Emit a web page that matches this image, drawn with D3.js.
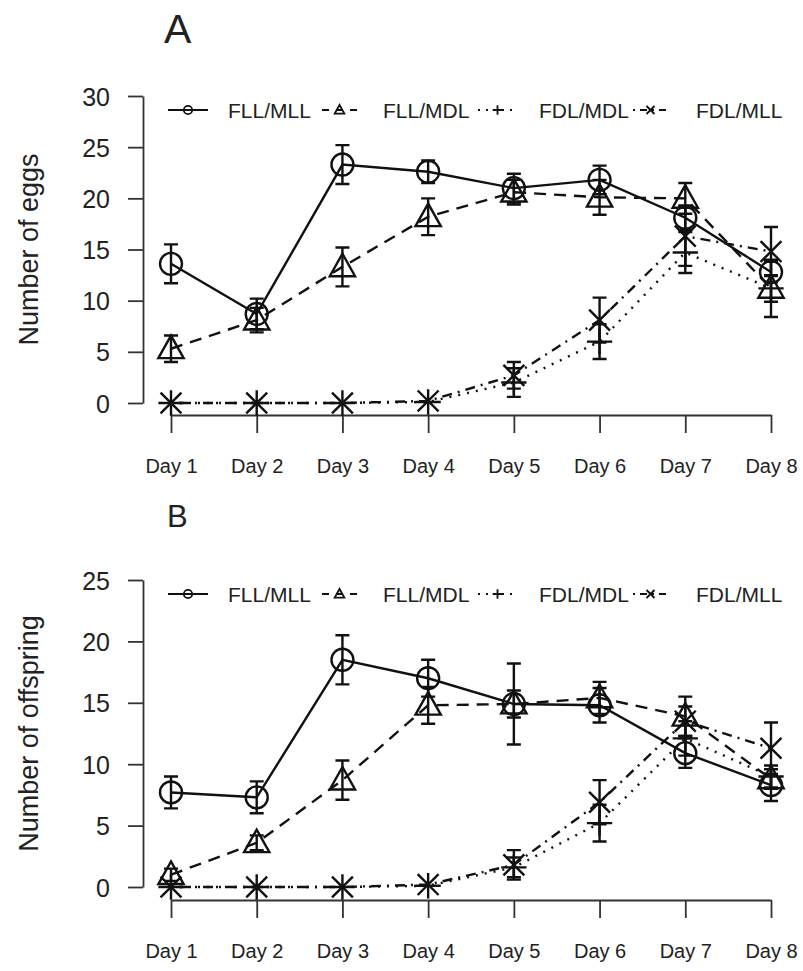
<!DOCTYPE html>
<html>
<head>
<meta charset="utf-8">
<script src="https://cdn.jsdelivr.net/npm/d3@7"></script>
<style>
  body { margin: 0; background: #fff; }
  text { font-family: "Liberation Sans", Arial, sans-serif; fill: #222; }
</style>
</head>
<body>
<svg width="803" height="971"></svg>
<script>
// data
var days = ["Day 1", "Day 2", "Day 3", "Day 4", "Day 5", "Day 6", "Day 7", "Day 8"];
var groups = ["FLL/MLL", "FLL/MDL", "FDL/MDL", "FDL/MLL"];
var symbols = ["circle", "triangle", "plus", "cross"];
var dashes = ["none", "12,8", "2,7", "2,6,10,6"];

// panel A: number of eggs
var eggsFLLMLL = [13.6, 8.7, 23.3, 22.6, 21.0, 21.8, 18.1, 12.8];
var eggsFLLMLLse = [1.9, 1.5, 1.9, 1.1, 1.4, 1.4, 1.2, 1.0];
var eggsFLLMDL = [5.3, 8.1, 13.3, 18.2, 20.6, 20.1, 20.0, 11.2];
var eggsFLLMDLse = [1.3, 1.2, 1.9, 1.8, 1.2, 1.7, 1.5, 2.8];
var eggsFDLMDL = [0, 0, 0, 0.1, 2.0, 6.0, 14.7, 11.2];
var eggsFDLMDLse = [0, 0, 0, 0.1, 1.4, 1.7, 2.0, 1.3];
var eggsFDLMLL = [0, 0, 0, 0.2, 2.7, 8.1, 16.3, 14.8];
var eggsFDLMLLse = [0, 0, 0, 0.1, 1.3, 2.2, 2.9, 2.4];
var eggTicks = [0, 5, 10, 15, 20, 25, 30];

// panel B: number of offspring
var offFLLMLL = [7.7, 7.3, 18.5, 17.0, 14.9, 14.8, 10.9, 8.3];
var offFLLMLLse = [1.3, 1.3, 2.0, 1.5, 3.3, 1.4, 1.2, 1.3];
var offFLLMDL = [1.0, 3.6, 8.7, 14.8, 14.9, 15.4, 13.9, 8.8];
var offFLLMDLse = [0.5, 0.6, 1.6, 1.5, 1.1, 1.3, 1.6, 0.8];
var offFDLMDL = [0, 0, 0, 0.1, 1.6, 5.2, 12.1, 9.0];
var offFDLMDLse = [0, 0, 0, 0.1, 0.8, 1.5, 1.4, 0.9];
var offFDLMLL = [0, 0, 0, 0.2, 1.8, 6.9, 13.5, 11.3];
var offFDLMLLse = [0, 0, 0, 0.1, 1.2, 1.8, 1.2, 2.1];
var offTicks = [0, 5, 10, 15, 20, 25];

var svg = d3.select("svg");
var ink = "#111";

var x = d3.scalePoint().domain(days).range([171, 771]);

function marker(g, type, cx, cy, s) {
  if (type == "circle") {
    g.append("circle").attr("cx", cx).attr("cy", cy).attr("r", s);
  } else if (type == "triangle") {
    g.append("path").attr("d", d3.line()([[cx, cy - 1.2 * s], [cx - 1.15 * s, cy + 0.85 * s], [cx + 1.15 * s, cy + 0.85 * s]]) + "Z");
  } else if (type == "plus") {
    g.append("path").attr("d", "M" + (cx - 1.15 * s) + "," + cy + "H" + (cx + 1.15 * s) + "M" + cx + "," + (cy - 1.15 * s) + "V" + (cy + 1.15 * s));
  } else {
    var k = 0.95 * s;
    g.append("path").attr("d", "M" + (cx - k) + "," + (cy - k) + "L" + (cx + k) + "," + (cy + k) + "M" + (cx - k) + "," + (cy + k) + "L" + (cx + k) + "," + (cy - k));
  }
}

function drawPanel(p) {
  var y = d3.scaleLinear().domain([0, d3.max(p.ticks)]).range([p.y0, p.y1]);
  var root = svg.append("g");

  root.append("text").attr("x", p.letterX).attr("y", p.letterY)
      .style("font-size", p.letterSize + "px").text(p.letter);

  var ya = root.append("g").attr("transform", "translate(143,0)")
      .call(d3.axisLeft(y).tickValues(p.ticks).tickSize(15).tickSizeOuter(0).tickPadding(18));
  var xa = root.append("g").attr("transform", "translate(0," + p.xAxisY + ")")
      .call(d3.axisBottom(x).tickSize(18).tickSizeOuter(0).tickPadding(26));
  [ya, xa].forEach(function(a) {
    a.selectAll("path, line").attr("stroke", "#333").attr("stroke-width", 1.8);
    a.selectAll("text").attr("fill", "#222").attr("font-family", null);
  });
  ya.selectAll("text").style("font-size", "25px").attr("dy", "0.36em");
  xa.selectAll("text").style("font-size", "20px");

  root.append("text").attr("transform", "translate(38," + (p.y0 + p.y1) / 2 + ") rotate(-90)")
      .attr("text-anchor", "middle").style("font-size", "27px").text(p.label);

  var line = d3.line().x(function(d, i) { return x(days[i]); }).y(function(d) { return y(d); });

  p.means.forEach(function(m, k) {
    var g = root.append("g").attr("fill", "none").attr("stroke", ink).attr("stroke-width", 2.4);
    g.append("path").attr("d", line(m)).attr("stroke-dasharray", dashes[k]);
    m.forEach(function(v, i) {
      var e = p.errs[k][i], cx = x(days[i]);
      if (e > 0.15) {
        g.append("path").attr("d",
          "M" + cx + "," + y(v - e) + "V" + y(v + e) +
          "M" + (cx - 7) + "," + y(v + e) + "H" + (cx + 7) +
          "M" + (cx - 7) + "," + y(v - e) + "H" + (cx + 7));
      }
      marker(g, symbols[k], cx, y(v), 11);
    });
  });

  // legend
  var legX = [168, 322, 478, 633], legW = [40, 35, 39, 35], txtX = [228, 383, 539, 696];
  groups.forEach(function(name, k) {
    var g = root.append("g").attr("fill", "none").attr("stroke", ink).attr("stroke-width", 1.8);
    g.append("line").attr("x1", legX[k]).attr("x2", legX[k] + legW[k])
      .attr("y1", p.legY).attr("y2", p.legY).attr("stroke-dasharray", k == 0 ? "none" : (k == 1 ? "7,7" : (k == 2 ? "2,6" : "2,5,7,5")));
    marker(g, symbols[k], legX[k] + legW[k] / 2, p.legY, 4.2);
    root.append("text").attr("x", txtX[k]).attr("y", p.legY).attr("dy", "0.36em")
      .style("font-size", "21px").text(name);
  });
}

drawPanel({
  letter: "A", letterX: 164, letterY: 43, letterSize: 41,
  label: "Number of eggs", ticks: eggTicks, y0: 403, y1: 96, xAxisY: 415, legY: 110,
  means: [eggsFLLMLL, eggsFLLMDL, eggsFDLMDL, eggsFDLMLL],
  errs: [eggsFLLMLLse, eggsFLLMDLse, eggsFDLMDLse, eggsFDLMLLse]
});

drawPanel({
  letter: "B", letterX: 167, letterY: 527, letterSize: 31,
  label: "Number of offspring", ticks: offTicks, y0: 887, y1: 580, xAxisY: 900, legY: 594,
  means: [offFLLMLL, offFLLMDL, offFDLMDL, offFDLMLL],
  errs: [offFLLMLLse, offFLLMDLse, offFDLMDLse, offFDLMLLse]
});
</script>
</body>
</html>
